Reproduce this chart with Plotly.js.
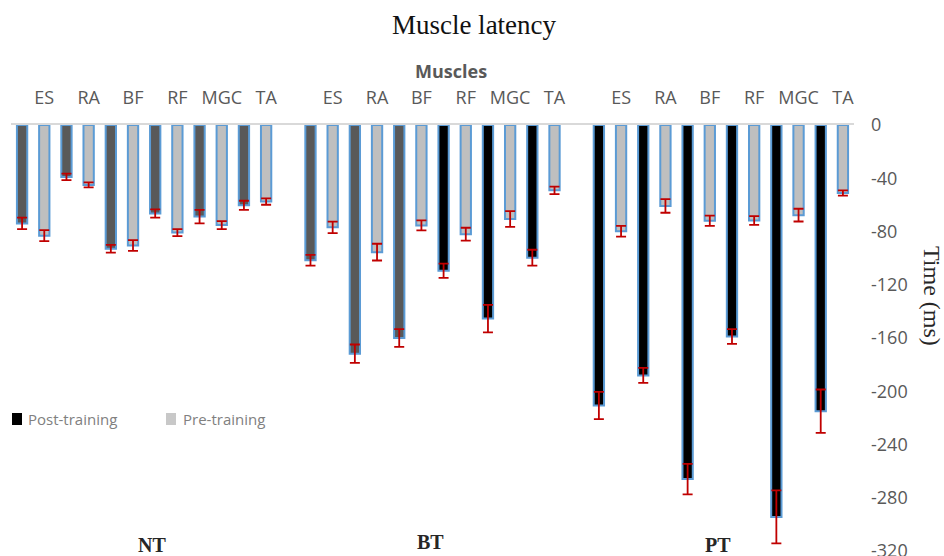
<!DOCTYPE html>
<html>
<head>
<meta charset="utf-8">
<script src="https://cdn.plot.ly/plotly-3.0.1.min.js"></script>
<style>html,body{margin:0;padding:0;background:#fff;}#chart{width:944px;height:556px;}</style>
</head>
<body>
<div id="chart"></div>
<script>
// ---- data ----
const groups = ['NT', 'BT', 'PT'];
const muscles = ['ES', 'RA', 'BF', 'RF', 'MGC', 'TA'];

const postNT = [-73.9, -39.0, -92.9, -66.5, -68.8, -60.3];
const postNTErr = [4.3, 2.4, 2.9, 3.1, 5.1, 3.4];
const preNT = [-83.1, -45.0, -90.5, -80.8, -75.2, -57.5];
const preNTErr = [4.1, 1.9, 4.0, 2.6, 3.0, 2.4];

const postBT = [-101.6, -171.8, -160.0, -109.5, -145.4, -99.7];
const postBTErr = [4.1, 6.9, 6.6, 5.3, 10.3, 6.0];
const preBT = [-76.9, -95.5, -75.4, -82.0, -70.6, -49.1];
const preBTErr = [4.3, 6.3, 3.8, 4.8, 5.9, 2.8];

const postPT = [-210.7, -188.1, -266.0, -158.9, -294.4, -215.0];
const postPTErr = [10.2, 5.6, 11.4, 5.5, 19.9, 16.3];
const prePT = [-79.8, -60.8, -71.9, -71.7, -67.7, -51.1];
const prePTErr = [4.1, 5.1, 3.8, 3.3, 4.8, 2.0];

const yTicks = [0, -40, -80, -120, -160, -200, -240, -280, -320];
const yTickText = ['0', '-40', '-80', '-120', '-160', '-200', '-240', '-280', '-320'];

// ---- styles ----
const DARK = '#595959', BLACK = '#000000', LIGHT = '#bfbfbf';
const postColorNT = [DARK, DARK, DARK, DARK, DARK, DARK];
const postColorBT = [DARK, DARK, DARK, BLACK, BLACK, BLACK];
const postColorPT = [BLACK, BLACK, BLACK, BLACK, BLACK, BLACK];

// ---- build traces ----
const post = [postNT, postBT, postPT], postErr = [postNTErr, postBTErr, postPTErr];
const pre = [preNT, preBT, prePT], preErr = [preNTErr, preBTErr, prePTErr];
const postCols = [postColorNT, postColorBT, postColorPT];
const SLOTS_PER_GROUP = muscles.length * 2 + 1; // one empty slot between groups

const postX = [], postY = [], postE = [], postC = [];
const preX = [], preY = [], preE = [];
const tickVals = [], tickText = [];
groups.forEach((g, gi) => {
  muscles.forEach((m, mi) => {
    const base = gi * SLOTS_PER_GROUP + mi * 2;
    postX.push(base); postY.push(post[gi][mi]); postE.push(postErr[gi][mi]); postC.push(postCols[gi][mi]);
    preX.push(base + 1); preY.push(pre[gi][mi]); preE.push(preErr[gi][mi]);
    tickVals.push(base + 1); tickText.push(m);
  });
});
const nSlots = groups.length * SLOTS_PER_GROUP - 1;
const boundaries = [];
for (let i = 0; i <= nSlots; i++) boundaries.push(i - 0.5);
const xRange = [-0.5, nSlots - 0.5];

const barLine = {color: '#5b9bd5', width: 2};
const errStyle = {type: 'data', symmetric: true, color: '#c00000', thickness: 1.8, width: 5};

const traces = [
  {type: 'bar', name: 'Post-training', x: postX, y: postY, width: 0.465,
   marker: {color: postC, line: barLine},
   error_y: Object.assign({array: postE}, errStyle), showlegend: false, hoverinfo: 'y'},
  {type: 'bar', name: 'Pre-training', x: preX, y: preY, width: 0.465,
   marker: {color: LIGHT, line: barLine},
   error_y: Object.assign({array: preE}, errStyle), showlegend: false, hoverinfo: 'y'}
];

// ---- layout helpers (pixel -> paper) ----
const W = 944, H = 556, ML = 11, MR = 90, MT = 125, MB = 5;
const PW = W - ML - MR, PH = H - MT - MB;
const px = v => (v - ML) / PW;
const py = v => (H - MB - v) / PH;

const serif = 'Liberation Serif, Times New Roman, serif';
const sans = 'Open Sans, Noto Sans, sans-serif';

const layout = {
  width: W, height: H,
  margin: {l: ML, r: MR, t: MT, b: MB, pad: 0},
  paper_bgcolor: '#ffffff', plot_bgcolor: '#ffffff',
  barmode: 'overlay',
  showlegend: false,
  title: {text: 'Muscle latency', font: {family: serif, size: 27, color: '#111111'},
          x: 474 / W, xref: 'container', xanchor: 'center',
          y: 1 - 25 / H, yref: 'container', yanchor: 'middle'},
  xaxis: {type: 'linear', range: xRange, side: 'top', anchor: 'y',
          tickmode: 'array', tickvals: tickVals, ticktext: tickText, ticks: '',
          tickfont: {family: sans, size: 18, color: '#595959'}, ticklabelstandoff: 12,
          showline: true, linecolor: '#d9d9d9', linewidth: 2,
          showgrid: false, zeroline: false, fixedrange: true},
  xaxis2: {type: 'linear', range: xRange, overlaying: 'x', side: 'top', anchor: 'y',
           tickmode: 'array', tickvals: boundaries, ticks: 'inside', ticklen: 6,
           tickwidth: 2, tickcolor: '#d9d9d9', showticklabels: false,
           showline: false, showgrid: false, zeroline: false, fixedrange: true},
  yaxis: {range: [-320, 0], side: 'right', tickmode: 'array', tickvals: yTicks, ticktext: yTickText,
          ticks: '', tickfont: {family: sans, size: 18, color: '#595959'},
          ticklabelstandoff: 16, ticklabeloverflow: 'allow',
          showline: false, showgrid: false, zeroline: false, fixedrange: true},
  shapes: [
    {type: 'rect', xref: 'paper', yref: 'paper', x0: px(12), x1: px(22), y0: py(425), y1: py(413),
     fillcolor: '#000000', line: {width: 0}},
    {type: 'rect', xref: 'paper', yref: 'paper', x0: px(166), x1: px(176), y0: py(425), y1: py(413),
     fillcolor: '#c8c8c8', line: {width: 0}}
  ],
  annotations: [
    {text: '<b>Muscles</b>', xref: 'paper', yref: 'paper', x: px(451), y: py(71),
     xanchor: 'center', yanchor: 'middle', showarrow: false,
     font: {family: sans, size: 18, color: '#595959'}},
    {text: 'Time (ms)', xref: 'paper', yref: 'paper', x: px(932), y: py(296),
     xanchor: 'center', yanchor: 'middle', textangle: 90, showarrow: false,
     font: {family: serif, size: 24, color: '#262626'}},
    {text: 'Post-training', xref: 'paper', yref: 'paper', x: px(26), y: py(419),
     xanchor: 'left', yanchor: 'middle', showarrow: false,
     font: {family: sans, size: 15, color: '#808080'}},
    {text: 'Pre-training', xref: 'paper', yref: 'paper', x: px(181), y: py(419),
     xanchor: 'left', yanchor: 'middle', showarrow: false,
     font: {family: sans, size: 15, color: '#808080'}},
    {text: '<b>' + groups[0] + '</b>', xref: 'paper', yref: 'paper', x: px(152), y: py(545),
     xanchor: 'center', yanchor: 'middle', showarrow: false, font: {family: serif, size: 20, color: '#262626'}},
    {text: '<b>' + groups[1] + '</b>', xref: 'paper', yref: 'paper', x: px(430), y: py(542),
     xanchor: 'center', yanchor: 'middle', showarrow: false, font: {family: serif, size: 20, color: '#262626'}},
    {text: '<b>' + groups[2] + '</b>', xref: 'paper', yref: 'paper', x: px(718), y: py(545),
     xanchor: 'center', yanchor: 'middle', showarrow: false, font: {family: serif, size: 20, color: '#262626'}}
  ]
};

Plotly.newPlot('chart', traces, layout, {displayModeBar: false, staticPlot: true});
</script>
</body>
</html>
